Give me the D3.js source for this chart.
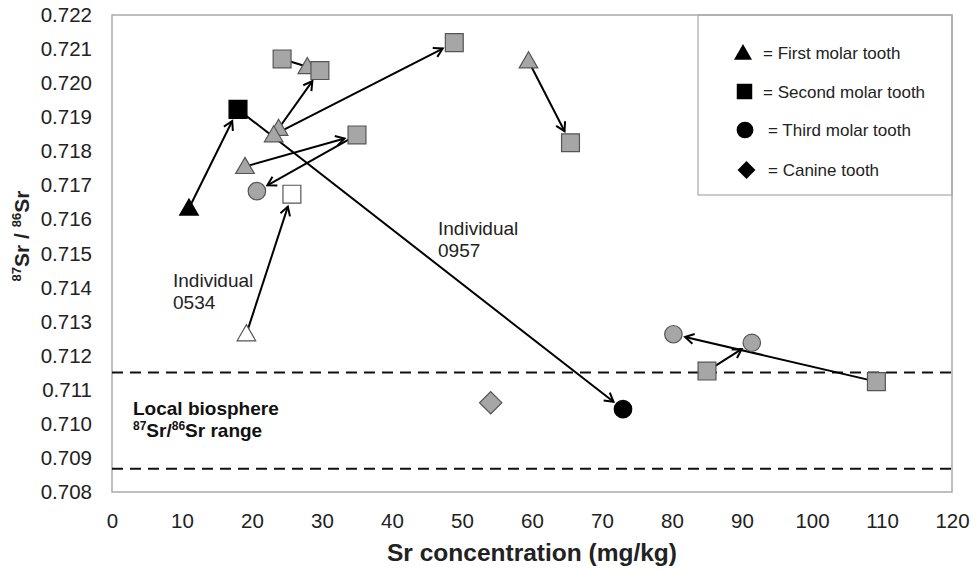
<!DOCTYPE html>
<html>
<head>
<meta charset="utf-8">
<script src="https://cdn.jsdelivr.net/npm/d3@7"></script>
<style>
  body { margin: 0; background: #fff; }
  svg { display: block; font-family: "Liberation Sans", Arial, sans-serif; }
</style>
</head>
<body>
<svg id="chart" width="976" height="569"></svg>
<script>
// ---- data ----
const toothTypes = ["First molar tooth", "Second molar tooth", "Third molar tooth", "Canine tooth"];
const xTicks = [0, 10, 20, 30, 40, 50, 60, 70, 80, 90, 100, 110, 120];
const yTicks = [0.708, 0.709, 0.710, 0.711, 0.712, 0.713, 0.714, 0.715, 0.716, 0.717, 0.718, 0.719, 0.720, 0.721, 0.722];

// Sr concentration (mg/kg)
const pointX = [11.0, 18.0, 73.0, 19.2, 25.7, 24.3, 27.9, 29.7, 23.8, 23.1, 48.9, 59.5, 65.5, 35.0, 19.0, 20.7, 54.1, 80.2, 91.4, 85.0, 109.2];
// 87Sr/86Sr
const pointY = [0.71633, 0.71923, 0.71043, 0.71264, 0.71674, 0.72071, 0.72048, 0.72037, 0.71867, 0.71848, 0.72119, 0.72065, 0.71825, 0.71848, 0.71755, 0.71683, 0.71062, 0.71263, 0.71238, 0.71155, 0.71124];
// tooth type index into toothTypes
const pointType = [0, 1, 2, 0, 1, 1, 0, 1, 0, 0, 1, 0, 1, 1, 0, 2, 3, 2, 2, 1, 1];
// individual group
const pointGroup = ["0957", "0957", "0957", "0534", "0534", "other", "other", "other", "other", "other", "other", "other", "other", "other", "other", "other", "other", "other", "other", "other", "other"];

// arrows: [from, to]
const arrowFrom = [0, 1, 3, 8, 9, 14, 13, 11, 20, 19];
const arrowTo   = [1, 2, 4, 7, 10, 13, 15, 12, 17, 18];
// plain connecting segment
const segFrom = [5];
const segTo = [6];

// local biosphere range
const biosphereRange = [0.70868, 0.71151];

// ---- drawing ----
(function () {
const svg = d3.select("#chart");
const mLeft = 112, mRight = 952, mTop = 15, mBottom = 492;

const x = d3.scaleLinear().domain([0, 120]).range([mLeft, mRight]);
const y = d3.scaleLinear().domain([0.708, 0.722]).range([mBottom, mTop]);

const fillFor = g => g === "0957" ? "#000" : (g === "0534" ? "#fff" : "#a6a6a6");
const strokeFor = g => g === "0957" ? "#000" : "#555";

// frame
svg.append("rect").attr("x", mLeft).attr("y", mTop).attr("width", mRight - mLeft).attr("height", mBottom - mTop)
  .attr("fill", "none").attr("stroke", "#a9a9a9").attr("stroke-width", 1.5);

// legend box
svg.append("rect").attr("x", 698).attr("y", mTop).attr("width", mRight - 698).attr("height", 195 - mTop)
  .attr("fill", "none").attr("stroke", "#a9a9a9").attr("stroke-width", 1.2);

// axes
const yAxis = d3.axisLeft(y).tickValues(yTicks).tickFormat(d3.format(".3f")).tickSize(0).tickPadding(20);
const gy = svg.append("g").attr("transform", `translate(${mLeft},0)`).call(yAxis);
gy.select(".domain").remove();
gy.selectAll("text").attr("font-size", 20.5).attr("fill", "#222").attr("font-family", "Liberation Sans, Arial, sans-serif");

const xAxis = d3.axisBottom(x).tickValues(xTicks).tickFormat(d3.format("d")).tickSize(0).tickPadding(21);
const gx = svg.append("g").attr("transform", `translate(0,${mBottom})`).call(xAxis);
gx.select(".domain").remove();
gx.selectAll("text").attr("font-size", 20.5).attr("fill", "#222").attr("font-family", "Liberation Sans, Arial, sans-serif");

// axis titles
svg.append("text").attr("x", 532).attr("y", 561).attr("text-anchor", "middle")
  .attr("font-size", 24.5).attr("font-weight", "bold").attr("fill", "#222").text("Sr concentration (mg/kg)");

const yt = svg.append("text").attr("transform", "translate(29,236) rotate(-90)").attr("text-anchor", "middle")
  .attr("font-size", 21).attr("font-weight", "bold").attr("fill", "#222");
yt.append("tspan").attr("font-size", 13).attr("dy", -8).text("87");
yt.append("tspan").attr("dy", 8).text("Sr / ");
yt.append("tspan").attr("font-size", 13).attr("dy", -8).text("86");
yt.append("tspan").attr("dy", 8).text("Sr");

// dashed biosphere lines
svg.selectAll("line.bio").data(biosphereRange).join("line").attr("class", "bio")
  .attr("x1", mLeft).attr("x2", mRight).attr("y1", d => y(d)).attr("y2", d => y(d))
  .attr("stroke", "#111").attr("stroke-width", 2).attr("stroke-dasharray", "11,7");

// biosphere label
const bl = svg.append("g").attr("font-weight", "bold").attr("fill", "#111");
bl.append("text").attr("x", 133).attr("y", 415).attr("font-size", 19).text("Local biosphere");
const bl2 = bl.append("text").attr("x", 133).attr("y", 437).attr("font-size", 19);
bl2.append("tspan").attr("font-size", 12).attr("dy", -7).text("87");
bl2.append("tspan").attr("dy", 7).text("Sr/");
bl2.append("tspan").attr("font-size", 12).attr("dy", -7).text("86");
bl2.append("tspan").attr("dy", 7).text("Sr range");

// individual labels
const indLabels = [{t: ["Individual", "0957"], x: 438, y: 235}, {t: ["Individual", "0534"], x: 173, y: 287}];
indLabels.forEach(l => {
  l.t.forEach((s, i) => svg.append("text").attr("x", l.x).attr("y", l.y + i * 22)
    .attr("font-size", 19).attr("fill", "#222").text(s));
});

// arrows
const arrowG = svg.append("g").attr("stroke", "#000").attr("stroke-width", 2).attr("fill", "none");
arrowFrom.forEach((f, i) => {
  const t = arrowTo[i];
  const x1 = x(pointX[f]), y1 = y(pointY[f]);
  const x2 = x(pointX[t]), y2 = y(pointY[t]);
  const ang = Math.atan2(y2 - y1, x2 - x1);
  const s = pointType[t] === 1 ? 13 : 12;
  const ex = x2 - s * Math.cos(ang), ey = y2 - s * Math.sin(ang);
  arrowG.append("line").attr("x1", x1).attr("y1", y1).attr("x2", ex).attr("y2", ey);
  const L = 10, a = Math.PI / 6;
  const p1 = [ex - L * Math.cos(ang - a), ey - L * Math.sin(ang - a)];
  const p2 = [ex - L * Math.cos(ang + a), ey - L * Math.sin(ang + a)];
  arrowG.append("path").attr("d", `M${p1[0]},${p1[1]}L${ex},${ey}L${p2[0]},${p2[1]}`);
});
segFrom.forEach((f, i) => {
  const t = segTo[i];
  arrowG.append("line").attr("x1", x(pointX[f])).attr("y1", y(pointY[f]))
    .attr("x2", x(pointX[t])).attr("y2", y(pointY[t]));
});

// markers
const symbolTypes = [d3.symbolTriangle, d3.symbolSquare, d3.symbolCircle, d3.symbolSquare];
const symbolSizes = [150, 320, 240, 250];
const legendSizes = [140, 240, 220, 160];
const pts = pointX.map((d, i) => ({x: d, y: pointY[i], type: pointType[i], group: pointGroup[i]}));
svg.append("g").selectAll("path").data(pts).join("path")
  .attr("d", d => d3.symbol(symbolTypes[d.type], symbolSizes[d.type])())
  .attr("transform", d => `translate(${x(d.x)},${y(d.y) + (d.type === 0 ? 1.5 : 0)})${d.type === 3 ? " rotate(45)" : ""}`)
  .attr("fill", d => fillFor(d.group))
  .attr("stroke", d => strokeFor(d.group))
  .attr("stroke-width", 1.2);

// legend
const legY = [53, 91.5, 130, 170];
const legSymX = [743, 744.5, 745, 746.5];
const legTextX = [763, 763, 768, 768];
toothTypes.forEach((t, i) => {
  svg.append("path").attr("d", d3.symbol(symbolTypes[i], legendSizes[i])())
    .attr("transform", `translate(${legSymX[i]},${legY[i] + (i === 0 ? 1.5 : 0)})${i === 3 ? " rotate(45)" : ""}`)
    .attr("fill", "#000");
  svg.append("text").attr("x", legTextX[i]).attr("y", legY[i] + 6).attr("font-size", 17).attr("fill", "#222")
    .text("= " + t);
});
})();
</script>
</body>
</html>
